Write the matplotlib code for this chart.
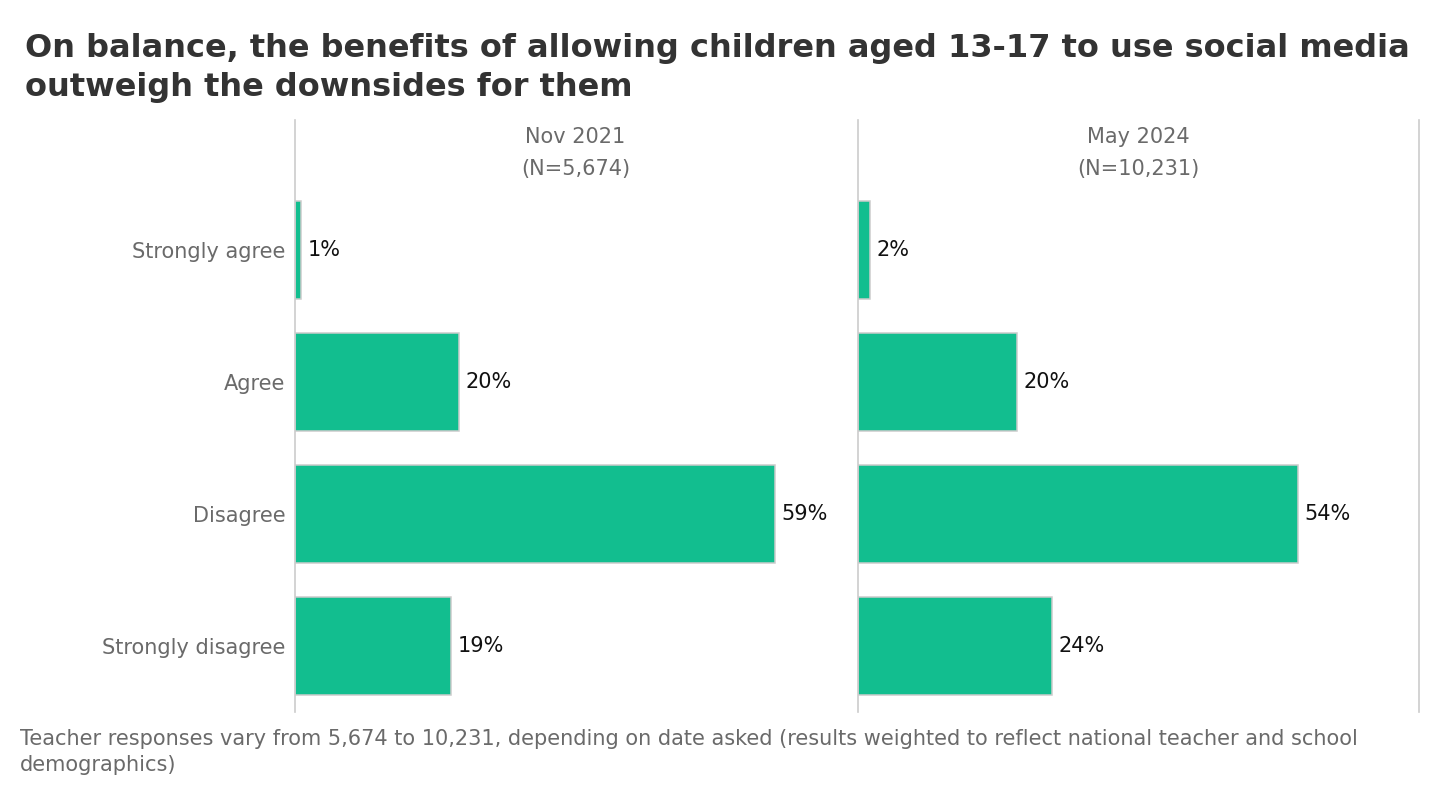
import matplotlib
matplotlib.use("Agg")
import matplotlib.pyplot as plt

categories = ["Strongly agree", "Agree", "Disagree", "Strongly disagree"]
panel_titles = ["Nov 2021\n(N=5,674)", "May 2024\n(N=10,231)"]
values_nov2021 = [0.75, 20.2, 59.0, 19.2]
values_may2024 = [1.5, 19.6, 54.1, 23.8]
labels_nov2021 = ["1%", "20%", "59%", "19%"]
labels_may2024 = ["2%", "20%", "54%", "24%"]
series = [values_nov2021, values_may2024]
series_labels = [labels_nov2021, labels_may2024]

title = ("On balance, the benefits of allowing children aged 13-17 to use social media\n"
         "outweigh the downsides for them")
footer = ("Teacher responses vary from 5,674 to 10,231, depending on date asked (results weighted to reflect national teacher and school\n"
          "demographics)")

plt.rcParams['font.family'] = ['DejaVu Sans']
W, H = 1440, 800
fig = plt.figure(figsize=(W / 100, H / 100), dpi=100)

bar_color = "#12BE8F"
edge_color = "#cccccc"
line_color = "#cccccc"
grey = "#6a6a6a"

top_px, bot_px = 120, 712
lefts = [295, 858]
width_px = 561
xmax = 69

for i, (vals, labs, ptitle) in enumerate(zip(series, series_labels, panel_titles)):
    ax = fig.add_axes([lefts[i] / W, 1 - bot_px / H, width_px / W, (bot_px - top_px) / H])
    y = list(range(len(categories)))
    ax.barh(y, vals, height=0.745, color=bar_color, edgecolor=edge_color, linewidth=1.1)
    ax.set_xlim(0, xmax)
    ax.set_ylim(3.5, -0.985)
    for yy, v, lab in zip(y, vals, labs):
        ax.text(v + 0.8, yy, lab, va="center", ha="left", fontsize=15, color="#111111")
    for s in ax.spines.values():
        s.set_visible(False)
    ax.spines['left'].set_visible(True)
    ax.spines['left'].set_color(line_color)
    ax.spines['left'].set_linewidth(1.2)
    if i == 1:
        ax.spines['right'].set_visible(True)
        ax.spines['right'].set_color(line_color)
        ax.spines['right'].set_linewidth(1.2)
    ax.set_xticks([])
    if i == 0:
        ax.set_yticks(y)
        ax.set_yticklabels(categories, fontsize=15, color=grey)
        ax.tick_params(axis='y', length=0, pad=7)
    else:
        ax.set_yticks([])
    ax.text(0.5, (712 - 153) / (bot_px - top_px), ptitle, transform=ax.transAxes,
            ha="center", va="center", fontsize=15, color=grey, linespacing=1.75)

fig.text(25 / W, 1 - 68 / H, title, ha="left", va="center", fontsize=23,
         fontweight="bold", color="#333333", linespacing=1.35)
fig.text(20 / W, 1 - 752 / H, footer, ha="left", va="center", fontsize=15,
         color=grey, linespacing=1.4)

fig.savefig("out.png", dpi=100, facecolor="white")
